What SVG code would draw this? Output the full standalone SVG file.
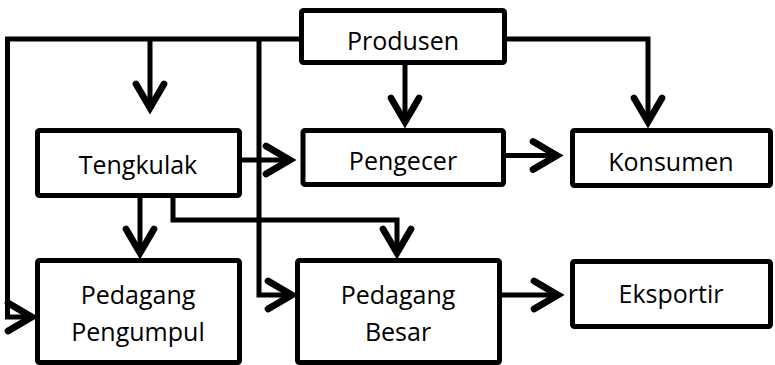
<svg xmlns="http://www.w3.org/2000/svg" width="775" height="365" viewBox="0 0 775 365">
  <style>
    .box { fill: #ffffff; stroke: #000000; stroke-width: 5; }
    .lbl { font-family: "Open Sans", "Liberation Sans", sans-serif; font-size: 25px; fill: #000000; text-anchor: middle; }
    .wire { fill: none; stroke: #000000; stroke-width: 5; stroke-linejoin: miter; }
    .arr { fill: none; stroke: #000000; stroke-width: 5; stroke-linejoin: miter; marker-end: url(#chev); }
  </style>
  <defs>
    <marker id="chev" markerUnits="userSpaceOnUse" markerWidth="40" markerHeight="40" viewBox="-25 -15 30 30" refX="0" refY="0" orient="auto" overflow="visible">
      <path d="M-18,-10.5 L0,0 L-18,10.5" fill="none" stroke="#000000" stroke-width="5" stroke-linecap="round" stroke-linejoin="miter"/>
    </marker>
  </defs>

  <rect width="775" height="365" fill="#ffffff"/>

  <!-- connectors -->
  <g id="connectors">
    <!-- Produsen trunk to the left -->
    <path class="wire" d="M301,39 L7.5,39 L7.5,317"/>
    <path class="arr" d="M5,317 L32,317"/>
    <path class="arr" d="M150,39 L150,108"/>
    <path class="arr" d="M259,39 L259,295 L292,295"/>
    <!-- Produsen to Pengecer and Konsumen -->
    <path class="arr" d="M405,63 L405,122"/>
    <path class="arr" d="M505,39 L648,39 L648,122"/>
    <!-- Tengkulak outputs -->
    <path class="arr" d="M240,160 L290,160"/>
    <path class="arr" d="M140,196 L140,253"/>
    <path class="arr" d="M173,196 L173,220 L397,220 L397,253"/>
    <!-- Pengecer to Konsumen, Pedagang Besar to Eksportir -->
    <path class="arr" d="M505,155.5 L557,155.5"/>
    <path class="arr" d="M500,295 L558,295"/>
  </g>

  <g id="produsen">
    <rect class="box" x="301.5" y="10.5" width="203" height="52" rx="2"/>
    <text class="lbl" x="403" y="50">Produsen</text>
  </g>
  <g id="tengkulak">
    <rect class="box" x="37.5" y="130.5" width="202" height="65" rx="2"/>
    <text class="lbl" x="138" y="174">Tengkulak</text>
  </g>
  <g id="pengecer">
    <rect class="box" x="303" y="130.5" width="200.5" height="54" rx="2"/>
    <text class="lbl" x="403" y="170">Pengecer</text>
  </g>
  <g id="konsumen">
    <rect class="box" x="572.5" y="130.5" width="198" height="55" rx="2"/>
    <text class="lbl" x="671" y="171">Konsumen</text>
  </g>
  <g id="pedagang-pengumpul">
    <rect class="box" x="37.5" y="260.5" width="202" height="102" rx="2"/>
    <text class="lbl" x="138" y="304">Pedagang</text>
    <text class="lbl" x="138" y="341">Pengumpul</text>
  </g>
  <g id="pedagang-besar">
    <rect class="box" x="297.5" y="260.5" width="202" height="102" rx="2"/>
    <text class="lbl" x="398" y="304">Pedagang</text>
    <text class="lbl" x="398" y="341">Besar</text>
  </g>
  <g id="eksportir">
    <rect class="box" x="572.5" y="261.5" width="198" height="65" rx="2"/>
    <text class="lbl" x="671" y="303">Eksportir</text>
  </g>
</svg>
